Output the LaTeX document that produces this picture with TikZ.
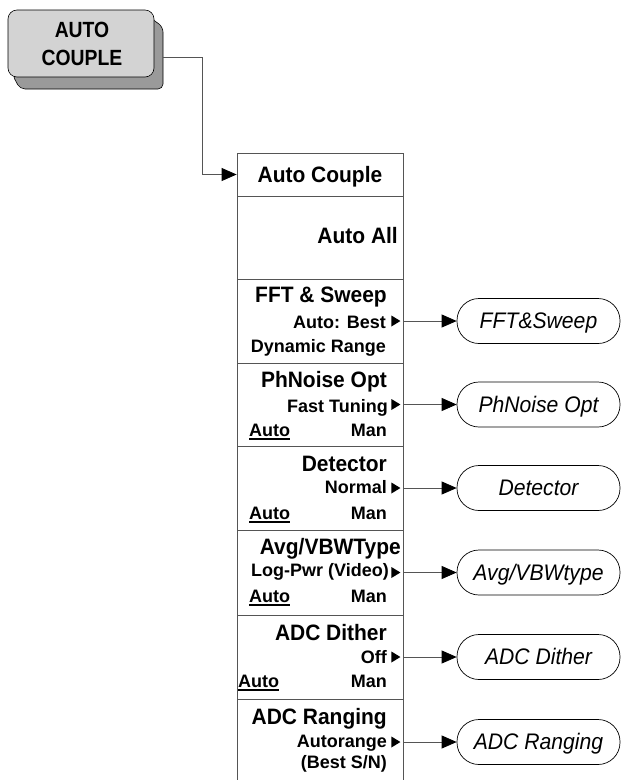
\documentclass[tikz,border=0pt]{standalone}
\usepackage{fontspec}
\setmainfont{Liberation Sans}
\newfontfamily\condfont[FakeStretch=0.88]{Liberation Sans}
\newfontfamily\semifont[FakeStretch=0.94]{Liberation Sans}
\usetikzlibrary{arrows.meta}
\newcommand\mtitle{\semifont\fontsize{22.3}{22}\selectfont\bfseries}
\newcommand\msub{\fontsize{18}{18}\selectfont\bfseries}
\newcommand\mpill{\semifont\fontsize{22.5}{22}\selectfont\itshape}
\newcommand\mkey{\condfont\fontsize{22}{22}\selectfont\bfseries}
\definecolor{keyface}{HTML}{D3D3D3}
\definecolor{keyshade}{HTML}{9A9A9A}
\definecolor{linegray}{HTML}{555555}
\begin{document}
\begin{tikzpicture}[x=1pt,y=-1pt,
  rowbox/.style={draw=linegray, line width=0.8pt, minimum width=166pt, inner sep=0pt},
  pillbox/.style={draw=black, line width=0.7pt, rounded corners=22pt, minimum width=163pt,
    minimum height=45pt, font=\mpill, text height=15pt, text depth=0pt, inner sep=0pt},
  ttext/.style={anchor=base east, font=\mtitle, inner sep=0pt},
  stext/.style={anchor=base east, font=\msub, inner sep=0pt},
  autotext/.style={anchor=base west, font=\msub, inner sep=0pt},
  conn/.style={draw=linegray, line width=0.8pt, -{Triangle[length=15pt,width=13pt,color=black]}},
  marker/.style={fill=black}
]
\useasboundingbox (0,0) rectangle (621,780);
\clip (0,0) rectangle (621,780);

% key
\filldraw[fill=keyshade, draw=black, line width=0.6pt, rounded corners=5pt]
  (140,10) -- (163,27) -- (163,89) -- (20,89) -- (12,74) -- cycle;
\node[draw=black, line width=0.6pt, fill=keyface, rounded corners=9pt,
  minimum width=146pt, minimum height=67pt, inner sep=0pt] (key) at (81,43.5) {};
\node[font=\mkey, anchor=base, inner sep=0pt] (k1) at (82,37) {AUTO};
\node[font=\mkey, anchor=base, inner sep=0pt] (k2) at (82,65) {COUPLE};

% menu rows
\node[rowbox, minimum height=43pt] (r1) at (320,174.5) {};
\node[rowbox, minimum height=83pt] (r2) at (320,237.5) {};
\node[rowbox, minimum height=84pt] (r3) at (320,321) {};
\node[rowbox, minimum height=83pt] (r4) at (320,404.5) {};
\node[rowbox, minimum height=84pt] (r5) at (320,488) {};
\node[rowbox, minimum height=85pt] (r6) at (320,572.5) {};
\node[rowbox, minimum height=84pt] (r7) at (320,657) {};
\node[rowbox, minimum height=86pt] (r8) at (320,742) {};

% key connector
\draw[conn] ([yshift=-13.5pt]key.east) ++(9,0) -- ++(39,0) |- (r1.west);

% row texts
\node[font=\mtitle, anchor=base, inner sep=0pt] (t1) at (320,182) {Auto Couple};
\node[ttext] (t2) at (398,243) {Auto All};

\node[ttext] (t3) at (387,302) {FFT \& Sweep};
\node[stext] (m3) at (386,328) {Auto: Best};
\node[stext] (b3) at (386,352) {Dynamic Range};

\node[ttext] (t4) at (387,387) {PhNoise Opt};
\node[stext] (m4) at (388,412) {Fast Tuning};
\node[autotext] (a4) at (249,436) {Auto};
\node[stext] (n4) at (387,436) {Man};

\node[ttext] (t5) at (387,471) {Detector};
\node[stext] (m5) at (387,493) {Normal};
\node[autotext] (a5) at (249,519) {Auto};
\node[stext] (n5) at (387,519) {Man};

\node[ttext] (t6) at (401,554) {Avg/VBWType};
\node[stext] (m6) at (389,576) {Log-Pwr (Video)};
\node[autotext] (a6) at (249,602) {Auto};
\node[stext] (n6) at (387,602) {Man};

\node[ttext] (t7) at (387,640) {ADC Dither};
\node[stext] (m7) at (387,663) {Off};
\node[autotext] (a7) at (238,687) {Auto};
\node[stext] (n7) at (387,687) {Man};

\node[ttext] (t8) at (387,724) {ADC Ranging};
\node[stext] (m8) at (387,747) {Autorange};
\node[stext] (b8) at (387,768) {(Best S/N)};

% underlines
\foreach \a in {a4,a5,a6,a7}
  \draw[line width=1.6pt] ([yshift=-3pt]\a.base west) -- ([yshift=-3pt]\a.base east);

% markers
\foreach \r in {r3,r4,r5,r6,r7,r8}
  \fill[marker] ([xshift=-3pt]\r.east) -- ++(-9,-5.5) -- ++(0,11) -- cycle;

% pills
\node[pillbox] (p3) at (538.5,321) {FFT\&Sweep};
\node[pillbox] (p4) at (538.5,404.5) {PhNoise Opt};
\node[pillbox] (p5) at (538.5,488) {Detector};
\node[pillbox] (p6) at (538.5,572.5) {Avg/VBWtype};
\node[pillbox] (p7) at (538.5,657) {ADC Dither};
\node[pillbox] (p8) at (538.5,742) {ADC Ranging};

\foreach \i in {3,...,8}
  \draw[conn] (r\i.east) -- (p\i.west);
\end{tikzpicture}
\end{document}
